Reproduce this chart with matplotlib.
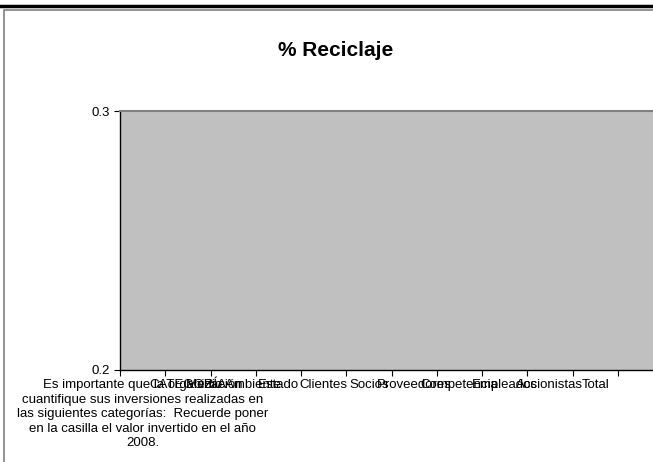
import numpy as np
import matplotlib.pyplot as plt
from matplotlib.patches import Rectangle
from matplotlib.lines import Line2D

plt.rcParams['font.family'] = ['Liberation Sans', 'DejaVu Sans']

categories = [
    'Es importante que la organización\ncuantifique sus inversiones realizadas en\n'
    'las siguientes categorías:  Recuerde poner\nen la casilla el valor invertido en el año\n2008.',
    'CATEGORÍA', 'Medio Ambiente', 'Estado', 'Clientes', 'Socios', 'Proveedores',
    'Competencia', 'Empleados', 'Accionistas', 'Total', '',
]
reciclaje = [0, 0, 0, 0, 0, 0, 0, 0, 0, 0, 0, 0]
y_ticks = [0.2, 0.3]

W, H = 653, 462
fig = plt.figure(figsize=(W / 100, H / 100), dpi=100)

# chart area frame (cut off at right and bottom)
fig.add_artist(Line2D([0, 1], [1 - 6 / H, 1 - 6 / H], color='black', lw=2.5))
fig.add_artist(Rectangle((3.5 / W, -0.05), 1.1, 1 - 9.5 / H + 0.05, fill=False,
                         edgecolor='#808080', lw=1.2))

ax = fig.add_axes([120 / W, (H - 370) / H, 543 / W, 259 / H])
ax.set_facecolor('#C0C0C0')

x = np.arange(len(categories)) + 0.5
ax.bar(x, reciclaje, width=0.6, color='#9999FF', edgecolor='black', lw=0.8)

ax.set_xlim(0, len(categories))
ax.set_ylim(0.2, 0.3)
ax.set_yticks(y_ticks)
ax.set_yticklabels(['0.2', '0.3'], fontsize=9.5)

ax.set_xticks(np.arange(len(categories) + 1))
ax.set_xticklabels([])
ax.set_xticks(x, minor=True)
ax.set_xticklabels(categories, minor=True, fontsize=9.5, linespacing=1.28,
                   ha='center', va='top')
ax.tick_params(axis='x', which='minor', length=0, pad=6.5)
ax.tick_params(axis='x', which='major', direction='out', length=4, width=0.8)
ax.tick_params(axis='y', direction='out', length=4, width=0.8, pad=3)

ax.spines['right'].set_visible(False)
ax.spines['top'].set_color('#808080')
ax.spines['top'].set_linewidth(1.5)
ax.spines['left'].set_linewidth(1.0)
ax.spines['bottom'].set_linewidth(1.0)

fig.text(336 / W, 1 - 50 / H, '% Reciclaje', ha='center', va='center',
         fontsize=15, fontweight='bold')

fig.savefig('out.png', dpi=100)
